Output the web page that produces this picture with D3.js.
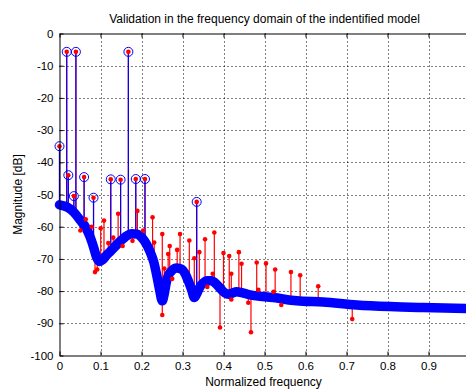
<!DOCTYPE html>
<html>
<head>
<meta charset="utf-8">
<script src="https://cdn.jsdelivr.net/npm/d3@7"></script>
<style>
  body { margin: 0; background: #fff; }
  svg { display: block; font-family: "Liberation Sans", Arial, sans-serif; }
</style>
</head>
<body>
<div id="chart"></div>
<script>
// model curve (thick blue band)
const modelFreq = [0, 0.02, 0.035, 0.05, 0.065, 0.074, 0.083, 0.09, 0.0975, 0.105, 0.115, 0.123, 0.135, 0.1475,
  0.16, 0.176, 0.19, 0.2, 0.21, 0.22, 0.23, 0.237, 0.244, 0.2507, 0.256, 0.261, 0.267, 0.2736, 0.286, 0.298,
  0.306, 0.314, 0.322, 0.329, 0.336, 0.343, 0.351, 0.359, 0.371, 0.379, 0.387, 0.395, 0.4037, 0.412, 0.42,
  0.432, 0.445, 0.4646, 0.5215, 0.5785, 0.643, 0.725, 0.806, 0.887, 1.0];
const modelMag = [-53.2, -54, -55.5, -57.9, -60.5, -63, -66.3, -69.3, -70.8, -70.3, -68.8, -67.8, -66.2, -64.6,
  -63.2, -62.2, -62.3, -63.3, -65, -67.5, -71, -75, -79.5, -83, -80.5, -77, -74.8, -73.7, -72.8, -73.2,
  -74.5, -76.8, -79.5, -82, -80.5, -78.6, -77.4, -76.8, -76.8, -77.4, -78.4, -79.6, -80.6, -81, -80.7,
  -80.2, -80.5, -81.2, -82, -83, -83.4, -84.3, -84.8, -85.1, -85.4];

// blue stems with circle markers
const peakFreq = [0, 0.0176, 0.0215, 0.035, 0.040, 0.060, 0.083, 0.125, 0.149, 0.168, 0.186, 0.2085, 0.3346];
const peakMag = [-35, -5.7, -44, -50.5, -5.7, -44.6, -51, -45.3, -45.4, -5.7, -45.2, -45.2, -52.3];

// red stems with dot markers
const measFreq = [0.051, 0.064, 0.0785, 0.0866, 0.092, 0.1005, 0.1085, 0.119, 0.131, 0.143, 0.154, 0.178,
  0.19, 0.204, 0.227, 0.231, 0.2507, 0.2507, 0.2556, 0.265, 0.2688, 0.275, 0.287, 0.294, 0.3166, 0.3288,
  0.341, 0.355, 0.3605, 0.3737, 0.3776, 0.3915, 0.4, 0.414, 0.419, 0.419, 0.4375, 0.444, 0.4605, 0.467,
  0.481, 0.485, 0.5037, 0.522, 0.526, 0.541, 0.5645, 0.587, 0.631, 0.714];
const measMag = [-61.2, -57.7, -60, -74.1, -73.3, -60.5, -58.1, -65.1, -63.4, -56, -66, -64.4,
  -55.1, -61.2, -57.1, -64.9, -62.3, -87.4, -73, -68.5, -66, -76.2, -67.2, -62.3, -64.3, -69.8,
  -67.9, -63.9, -78.7, -74.6, -61.8, -91.3, -68.2, -69.1, -74.6, -82.6, -67.9, -71.5, -83.6, -92.8,
  -71.1, -79.6, -71.4, -80.2, -73.3, -84.3, -74.1, -75.1, -78.5, -88.7];

const xTicks = [0, 0.1, 0.2, 0.3, 0.4, 0.5, 0.6, 0.7, 0.8, 0.9, 1];
const yTicks = [0, -10, -20, -30, -40, -50, -60, -70, -80, -90, -100];

const width = 466, height = 390;
const x = d3.scaleLinear().domain([0, 1]).range([59.5, 469.5]);
const y = d3.scaleLinear().domain([-100, 0]).range([355.5, 33.5]);
// model value at a frequency, used as the foot of each stem
const model = d3.scaleLinear().domain(modelFreq).range(modelMag);

const svg = d3.select('#chart').append('svg')
  .attr('width', width)
  .attr('height', height);

// grid
const grid = svg.append('g').attr('class', 'grid')
  .attr('stroke', '#000')
  .attr('stroke-width', 1)
  .attr('stroke-dasharray', '1,3');

grid.selectAll('.gx')
  .data(xTicks.filter(d => d > 0 && d < 1))
  .enter().append('line')
  .attr('x1', d => Math.round(x(d)) + 0.5)
  .attr('x2', d => Math.round(x(d)) + 0.5)
  .attr('y1', y(0))
  .attr('y2', y(-100));

grid.selectAll('.gy')
  .data(yTicks.filter(d => d < 0 && d > -100))
  .enter().append('line')
  .attr('y1', d => Math.round(y(d)) + 0.5)
  .attr('y2', d => Math.round(y(d)) + 0.5)
  .attr('x1', x(0))
  .attr('x2', x(1));

const plot = svg.append('g');

const redPts = measFreq.map((f, i) => [f, measMag[i]])
  .concat(peakFreq.map((f, i) => [f, peakMag[i]]));
const bluePts = peakFreq.map((f, i) => [f, peakMag[i]]);

plot.selectAll('.redStem')
  .data(redPts)
  .enter().append('line')
  .attr('x1', d => x(d[0]))
  .attr('x2', d => x(d[0]))
  .attr('y1', d => y(d[1]))
  .attr('y2', d => y(model(d[0])))
  .attr('stroke', '#ff0000')
  .attr('stroke-width', 1.2);

plot.selectAll('.blueStem')
  .data(bluePts)
  .enter().append('line')
  .attr('x1', d => x(d[0]))
  .attr('x2', d => x(d[0]))
  .attr('y1', d => y(d[1]))
  .attr('y2', d => y(model(d[0])))
  .attr('stroke', '#0000ff')
  .attr('stroke-width', 1.2);

const line = d3.line()
  .curve(d3.curveMonotoneX)
  .x((d, i) => x(modelFreq[i]))
  .y(d => y(d));

plot.append('path')
  .attr('d', line(modelMag))
  .attr('fill', 'none')
  .attr('stroke', '#0000ff')
  .attr('stroke-width', 9.5)
  .attr('stroke-linejoin', 'round')
  .attr('stroke-linecap', 'round');

plot.selectAll('.circ')
  .data(bluePts)
  .enter().append('circle')
  .attr('cx', d => x(d[0]))
  .attr('cy', d => y(d[1]))
  .attr('r', 4.5)
  .attr('fill', 'none')
  .attr('stroke', '#0000ff')
  .attr('stroke-width', 1);

plot.selectAll('.dot')
  .data(redPts)
  .enter().append('circle')
  .attr('cx', d => x(d[0]))
  .attr('cy', d => y(d[1]))
  .attr('r', 2.3)
  .attr('fill', '#ff0000');

// axes (plain hyphen minus like the original)
const fmt = d => String(d);

const xAxis = svg.append('g')
  .attr('transform', 'translate(0,' + y(-100) + ')')
  .call(d3.axisBottom(x).tickValues(xTicks.slice(0, 10)).tickSize(-4).tickSizeOuter(0).tickPadding(6)
    .tickFormat(fmt));

const xTop = svg.append('g')
  .attr('transform', 'translate(0,' + y(0) + ')')
  .call(d3.axisTop(x).tickValues(xTicks.slice(0, 10)).tickSize(-4).tickSizeOuter(0).tickFormat(''));

const yAxis = svg.append('g')
  .attr('transform', 'translate(' + x(0) + ',0)')
  .call(d3.axisLeft(y).tickValues(yTicks).tickSize(-4).tickSizeOuter(0).tickPadding(6).tickFormat(fmt));

[xAxis, xTop, yAxis].forEach(a => {
  a.select('.domain').attr('stroke', '#000');
  a.selectAll('.tick line').attr('stroke', '#000');
  a.selectAll('text')
    .attr('font-family', '"Liberation Sans", Arial, sans-serif')
    .attr('font-size', 11.5)
    .attr('fill', '#000');
});

svg.append('text')
  .attr('x', (x(0) + x(1)) / 2)
  .attr('y', 23)
  .attr('text-anchor', 'middle')
  .attr('font-size', 12)
  .text('Validation in the frequency domain of the indentified model');

svg.append('text')
  .attr('x', (x(0) + x(1)) / 2 - 1)
  .attr('y', 386)
  .attr('text-anchor', 'middle')
  .attr('font-size', 12)
  .text('Normalized frequency');

svg.append('text')
  .attr('transform', 'translate(22,' + y(-50) + ') rotate(-90)')
  .attr('text-anchor', 'middle')
  .attr('font-size', 12)
  .text('Magnitude [dB]');
</script>
</body>
</html>
